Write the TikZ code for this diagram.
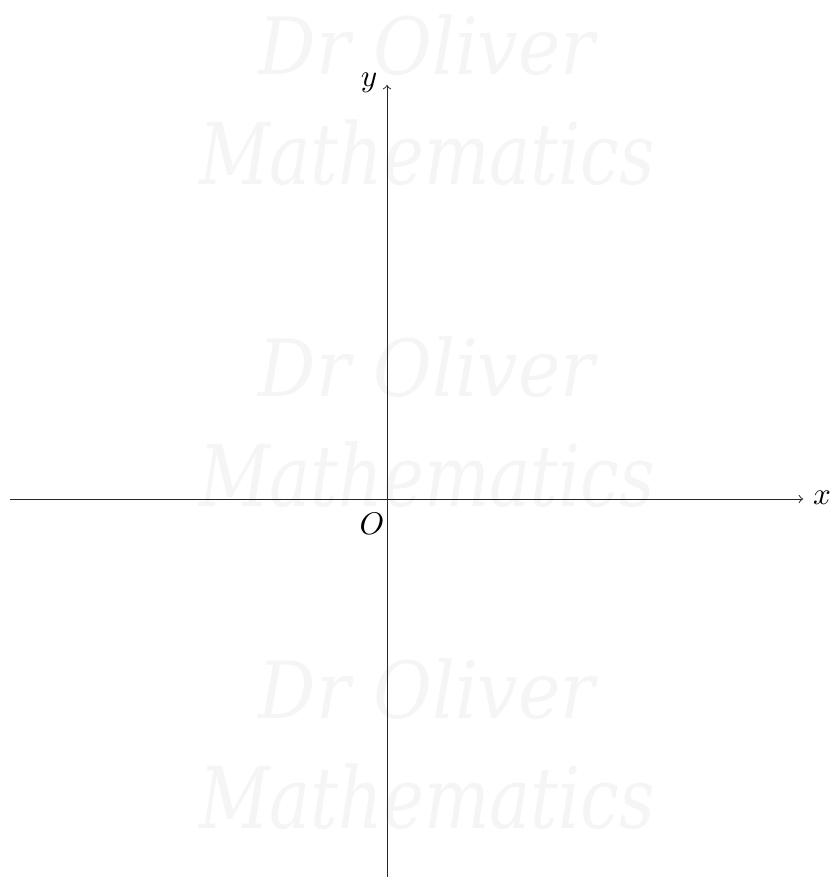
\documentclass[tikz,border=0pt]{standalone}
\usepackage{fontspec}
\newfontfamily\wmfont{DejaVu Serif}
\begin{document}
\begin{tikzpicture}[x=0.4167pt,y=-0.4167pt,
  wm/.style={text=black!4,inner sep=0pt,anchor=center},
  axis/.style={->,line width=0.4pt,draw=black!85},
  lbl/.style={inner sep=0pt,scale=1.3}]
\useasboundingbox (0,0) rectangle (830,877);
\foreach \dy/\n in {0/a,322/b,644/c}{
  \node[wm] (dr\n) at (427,45+\dy) {\resizebox{140pt}{25pt}{\wmfont\itshape Dr Oliver}};
  \node[wm] (ma\n) at (427,153+\dy) {\resizebox{190pt}{27pt}{\wmfont\itshape Mathematics}};
}
\coordinate (xl) at (10,499);
\coordinate (xr) at (803,499);
\coordinate (yb) at (387,877);
\coordinate (yt) at (387,85);
\draw[axis] (xl) -- (xr);
\draw[axis] (yb) -- (yt);
\node[lbl] (xlab) at (822,498) {$x$};
\node[lbl] (ylab) at (369,83) {$y$};
\node[lbl] (olab) at (372,524) {$O$};
\end{tikzpicture}
\end{document}
